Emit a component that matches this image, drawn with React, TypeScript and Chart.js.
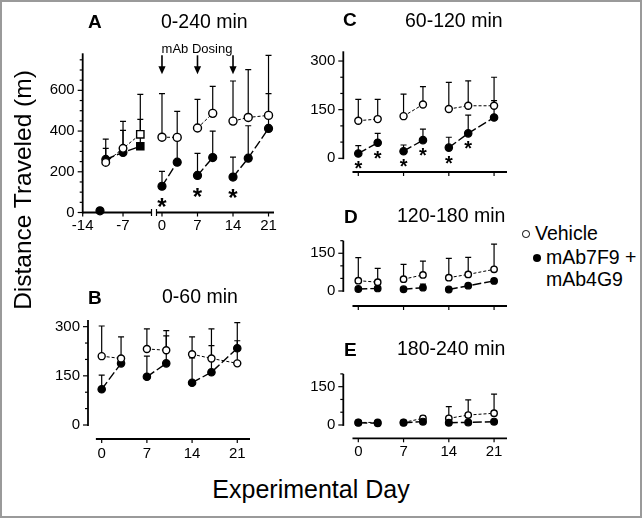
import React, { useEffect, useRef } from 'react';
import { Chart, registerables } from 'chart.js';

Chart.register(...registerables);

const FONT = "'Liberation Sans', Arial, Helvetica, sans-serif";

// ---------- DATA ----------
// Panel A, pre-dosing baseline period
const aPreDays = [-10, -7, -4];
const aPreVehicle = [246, 315, 384];
const aPreVehicleErr = [114, 133, 196];
const aPreMab = [261, 295, 325];
const aPreMabErr = [54, 108, 132];
const aHabDay = [-11];
const aHabMab = [8];

// dosing period days (shared by all panels)
const days = [0, 3, 7, 10, 14, 17, 21];
const weekGroup = [1, 1, 2, 2, 3, 3, 3];
const preGroup = [1, 1, 1];

// tick values / labels
const xTicks = [0, 7, 14, 21];
const xTickLabels = ['0', '7', '14', '21'];
const aPreTicks = [-14, -7];
const aPreTickLabels = ['-14', '-7'];
const aYTicks = [0, 50, 100, 150, 200, 250, 300, 350, 400, 450, 500, 550, 600, 650, 700, 750];
const aYLabels = [0, 200, 400, 600];
const bcYTicks = [0, 50, 100, 150, 200, 250, 300];
const bcYLabels = [0, 150, 300];
const deYTicks = [0, 50, 100, 150, 200];
const deYLabels = [0, 150];

// A: 0-240 min
const aVehicle = [370, 369, 415, 487, 449, 467, 477];
const aVehicleErr = [214, 128, 141, 133, 197, 235, 295];
const aMab = [129, 247, 182, 270, 174, 267, 413];
const aMabErr = [73, 125, 108, 130, 98, 159, 171];
const aStars = [0, 7, 14];
const doseDays = [0, 7, 14];

// B: 0-60 min
const bVehicle = [210, 203, 232, 228, 216, 203, 188];
const bVehicleErr = [92, 66, 61, 60, 53, 90, 69];
const bMab = [109, 188, 147, 188, 129, 161, 234];
const bMabErr = [43, 15, 63, 84, 76, 81, 78];

// C: 60-120 min
const cVehicle = [116, 121, 130, 166, 152, 162, 162];
const cVehicleErr = [66, 61, 68, 55, 82, 77, 88];
const cMab = [15, 48, 22, 56, 33, 77, 126];
const cMabErr = [24, 29, 19, 34, 32, 56, 52];
const cStars = [0, 3, 7, 10, 14, 17];

// D: 120-180 min
const dVehicle = [41, 35, 47, 64, 53, 66, 86];
const dVehicleErr = [92, 55, 59, 55, 77, 68, 100];
const dMab = [8, 10, 7, 13, 6, 21, 40];
const dMabErr = [5, 6, 5, 14, 4, 6, 8];

// E: 180-240 min
const eVehicle = [10, 10, 10, 26, 26, 39, 46];
const eVehicleErr = [3, 4, 4, 9, 46, 59, 75];
const eMab = [9, 7, 9, 13, 9, 10, 13];
const eMabErr = [3, 3, 3, 4, 3, 3, 4];

// ---------- helpers ----------
type Pt = { x: number; y: number | null; e?: number };

function buildSeries(ds: number[], vals: number[], errs: number[] | null, groups: number[]): Pt[] {
  const out: Pt[] = [];
  ds.forEach((d, i) => {
    if (i > 0 && groups[i] !== groups[i - 1]) out.push({ x: (ds[i - 1] + d) / 2, y: null });
    out.push({ x: d, y: vals[i], e: errs ? errs[i] : 0 });
  });
  return out;
}

function vehDs(pts: Pt[], r: any, order: number, style: any = 'circle') {
  return {
    data: pts,
    borderColor: '#000',
    borderWidth: 1,
    borderDash: [3, 2],
    pointStyle: style,
    pointRadius: r,
    pointBorderWidth: 1.4,
    pointBackgroundColor: '#fff',
    pointBorderColor: '#000',
    showLine: true,
    spanGaps: false,
    fill: false,
    tension: 0,
    order,
    clip: false,
  };
}

function mabDs(pts: Pt[], r: any, order: number, style: any = 'circle', showLine = true) {
  return {
    data: pts,
    borderColor: '#000',
    borderWidth: 1.4,
    borderDash: [9, 3],
    pointStyle: style,
    pointRadius: r,
    pointBorderWidth: 1.2,
    pointBackgroundColor: '#000',
    pointBorderColor: '#000',
    showLine,
    spanGaps: false,
    fill: false,
    tension: 0,
    order,
    clip: false,
  };
}

interface PanelCfg {
  area: { l: number; t: number; r: number; b: number };
  xRange: [number, number];
  yRange: [number, number];
  xTickVals: number[];
  xLabels: string[];
  yTickVals: number[];
  yLabelVals: number[];
  showY: boolean;
  xTickLen: number;
  xPad: number;
  xLineFrom: number | null;
  breakLeft?: boolean;
  breakRight?: boolean;
  datasets: any[];
  stars?: { days: number[]; vals: number[]; offset: number; size: number };
  arrows?: number[];
}

function Panel({ cfg }: { cfg: PanelCfg }) {
  const ref = useRef<HTMLCanvasElement>(null);
  const { l, t, r, b } = cfg.area;
  const left = Math.floor(l) - 50;
  const top = Math.floor(t) - 14;
  const w = Math.ceil(r) + 12 - left;
  const h = Math.ceil(b) + 30 - top;
  const yW = l - left;
  const padTop = t - top;
  const padRight = left + w - r;
  const xH = top + h - b;

  useEffect(() => {
    const drawPlugin = {
      id: 'panelDraw',
      beforeDatasetsDraw(chart: any) {
        const { ctx } = chart;
        const xs = chart.scales.x;
        const ys = chart.scales.y;
        ctx.save();
        ctx.strokeStyle = '#000';
        ctx.lineWidth = 1.2;
        chart.data.datasets.forEach((ds: any) => {
          (ds.data as Pt[]).forEach((p) => {
            if (p.y == null || !p.e) return;
            const x = xs.getPixelForValue(p.x);
            const y0 = ys.getPixelForValue(p.y);
            const y1 = ys.getPixelForValue(p.y + p.e);
            ctx.beginPath();
            ctx.moveTo(x, y0);
            ctx.lineTo(x, y1);
            ctx.moveTo(x - 3, y1);
            ctx.lineTo(x + 3, y1);
            ctx.stroke();
          });
        });
        ctx.restore();
      },
      afterDatasetsDraw(chart: any) {
        const { ctx, chartArea: ca } = chart;
        const xs = chart.scales.x;
        const ys = chart.scales.y;
        ctx.save();
        ctx.fillStyle = '#000';
        if (cfg.stars) {
          const st = cfg.stars;
          ctx.font = `bold ${st.size}px ${FONT}`;
          ctx.textAlign = 'center';
          ctx.textBaseline = 'alphabetic';
          st.days.forEach((d) => {
            const v = st.vals[days.indexOf(d)];
            const x = xs.getPixelForValue(d);
            const cy = ys.getPixelForValue(v) + st.offset;
            ctx.fillText('*', x, cy + 0.55 * st.size);
          });
        }
        if (cfg.arrows) {
          ctx.strokeStyle = '#000';
          ctx.lineWidth = 1.6;
          cfg.arrows.forEach((d) => {
            const x = xs.getPixelForValue(d);
            ctx.beginPath();
            ctx.moveTo(x, ca.top + 2);
            ctx.lineTo(x, ca.top + 14);
            ctx.stroke();
            ctx.beginPath();
            ctx.moveTo(x - 3.6, ca.top + 13);
            ctx.lineTo(x + 3.6, ca.top + 13);
            ctx.lineTo(x, ca.top + 21);
            ctx.closePath();
            ctx.fill();
          });
        }
        ctx.restore();
      },
      afterDraw(chart: any) {
        const { ctx, chartArea: ca } = chart;
        const xs = chart.scales.x;
        const ys = chart.scales.y;
        ctx.save();
        ctx.strokeStyle = '#000';
        if (cfg.showY) {
          const y0 = ys.getPixelForValue(Math.max(0, ys.min));
          ctx.lineWidth = 1.8;
          ctx.beginPath();
          ctx.moveTo(ca.left, y0 + 0.9);
          ctx.lineTo(ca.left, ca.top);
          ctx.stroke();
          ctx.lineWidth = 1.2;
          cfg.yTickVals.forEach((v) => {
            const y = ys.getPixelForValue(v);
            const len = cfg.yLabelVals.includes(v) ? 5 : 3;
            ctx.beginPath();
            ctx.moveTo(ca.left - len, y);
            ctx.lineTo(ca.left, y);
            ctx.stroke();
          });
        }
        const xa = cfg.xLineFrom == null ? ca.left : xs.getPixelForValue(cfg.xLineFrom);
        ctx.lineWidth = 1.8;
        ctx.beginPath();
        ctx.moveTo(xa, ca.bottom);
        ctx.lineTo(ca.right, ca.bottom);
        ctx.stroke();
        ctx.lineWidth = 1.2;
        cfg.xTickVals.forEach((v) => {
          const x = xs.getPixelForValue(v);
          ctx.beginPath();
          ctx.moveTo(x, ca.bottom);
          ctx.lineTo(x, ca.bottom + 4);
          ctx.stroke();
        });
        if (cfg.breakRight) {
          ctx.beginPath();
          ctx.moveTo(ca.right - 0.5, ca.bottom - 3.5);
          ctx.lineTo(ca.right - 0.5, ca.bottom + 3.5);
          ctx.stroke();
        }
        if (cfg.breakLeft) {
          ctx.beginPath();
          ctx.moveTo(ca.left + 0.5, ca.bottom - 3.5);
          ctx.lineTo(ca.left + 0.5, ca.bottom + 3.5);
          ctx.stroke();
        }
        ctx.restore();
      },
    };

    const tickFont = { family: FONT, size: 15 };
    const chart = new Chart(ref.current as HTMLCanvasElement, {
      type: 'line',
      data: { datasets: cfg.datasets },
      options: {
        responsive: false,
        animation: false,
        devicePixelRatio: 1,
        events: [],
        layout: { padding: { top: padTop, right: padRight, left: 0, bottom: 0 } },
        plugins: { legend: { display: false }, tooltip: { enabled: false } },
        scales: {
          x: {
            type: 'linear',
            min: cfg.xRange[0],
            max: cfg.xRange[1],
            afterBuildTicks: (s: any) => {
              s.ticks = cfg.xTickVals.map((v) => ({ value: v }));
            },
            afterFit: (s: any) => {
              s.height = xH;
            },
            border: { display: false },
            grid: {
              display: true,
              drawOnChartArea: false,
              drawTicks: true,
              tickLength: cfg.xTickLen,
              color: 'rgba(0,0,0,0)',
            },
            ticks: {
              autoSkip: false,
              maxRotation: 0,
              padding: cfg.xPad,
              color: '#000',
              font: tickFont,
              callback: (v: any) => {
                const i = cfg.xTickVals.indexOf(Number(v));
                return i >= 0 && cfg.xLabels[i] !== undefined ? cfg.xLabels[i] : '';
              },
            },
          },
          y: {
            type: 'linear',
            min: cfg.yRange[0],
            max: cfg.yRange[1],
            afterBuildTicks: (s: any) => {
              s.ticks = cfg.yTickVals.map((v) => ({ value: v }));
            },
            afterFit: (s: any) => {
              s.width = yW;
            },
            border: { display: false },
            grid: {
              display: true,
              drawOnChartArea: false,
              drawTicks: true,
              tickLength: 6,
              color: 'rgba(0,0,0,0)',
            },
            ticks: {
              display: cfg.showY,
              autoSkip: false,
              padding: 2,
              color: '#000',
              font: tickFont,
              callback: (v: any) => (cfg.yLabelVals.includes(Number(v)) ? String(v) : ''),
            },
          },
        },
      } as any,
      plugins: [drawPlugin],
    });
    return () => chart.destroy();
  }, []);

  return (
    <canvas
      ref={ref}
      width={w}
      height={h}
      style={{ position: 'absolute', left, top, width: w, height: h, display: 'block' }}
    />
  );
}

function Txt(p: { x: number; cy: number; size: number; bold?: boolean; center?: boolean; children: any }) {
  return (
    <div
      style={{
        position: 'absolute',
        left: p.x,
        top: p.cy - 0.49 * p.size,
        fontFamily: FONT,
        fontSize: p.size,
        lineHeight: `${p.size}px`,
        fontWeight: p.bold ? 'bold' : 'normal',
        whiteSpace: 'nowrap',
        color: '#000',
        transform: p.center ? 'translateX(-50%)' : undefined,
      }}
    >
      {p.children}
    </div>
  );
}

// ---------- panel configurations ----------
const aLeftCfg: PanelCfg = {
  area: { l: 82.7, t: 53.3, r: 152, b: 212.5 },
  xRange: [-14, -1.97],
  yRange: [0, 782],
  xTickVals: aPreTicks,
  xLabels: aPreTickLabels,
  yTickVals: aYTicks,
  yLabelVals: aYLabels,
  showY: true,
  xTickLen: 4,
  xPad: 0,
  xLineFrom: null,
  breakRight: true,
  datasets: [
    vehDs(buildSeries(aPreDays, aPreVehicle, aPreVehicleErr, preGroup), [3.8, 3.8, 5.2], 0, ['circle', 'circle', 'rect']),
    mabDs(buildSeries(aPreDays, aPreMab, aPreMabErr, preGroup), [3.9, 3.9, 5.2], 1, ['circle', 'circle', 'rect']),
    mabDs(buildSeries(aHabDay, aHabMab, null, [1]), 4, 1, 'circle', false),
  ],
};

const aRightCfg: PanelCfg = {
  area: { l: 156, t: 53.3, r: 274, b: 212.5 },
  xRange: [-1.18, 22.08],
  yRange: [0, 782],
  xTickVals: xTicks,
  xLabels: xTickLabels,
  yTickVals: aYTicks,
  yLabelVals: aYLabels,
  showY: false,
  xTickLen: 4,
  xPad: 0,
  xLineFrom: null,
  breakLeft: true,
  datasets: [
    vehDs(buildSeries(days, aVehicle, aVehicleErr, weekGroup), 4, 0),
    mabDs(buildSeries(days, aMab, aMabErr, weekGroup), 4, 1),
  ],
  stars: { days: aStars, vals: aMab, offset: 16, size: 24 },
  arrows: doseDays,
};

const bCfg: PanelCfg = {
  area: { l: 88, t: 320.1, r: 250, b: 439 },
  xRange: [-2.12, 22.97],
  yRange: [-42.7, 320],
  xTickVals: xTicks,
  xLabels: xTickLabels,
  yTickVals: bcYTicks,
  yLabelVals: bcYLabels,
  showY: true,
  xTickLen: 4,
  xPad: 2,
  xLineFrom: -0.9,
  datasets: [
    vehDs(buildSeries(days, bVehicle, bVehicleErr, weekGroup), 3.5, 0),
    mabDs(buildSeries(days, bMab, bMabErr, weekGroup), 3.7, 1),
  ],
};

const cCfg: PanelCfg = {
  area: { l: 343.3, t: 51.3, r: 507, b: 172 },
  xRange: [-2.32, 23.0],
  yRange: [-42.2, 330],
  xTickVals: xTicks,
  xLabels: [],
  yTickVals: bcYTicks,
  yLabelVals: bcYLabels,
  showY: true,
  xTickLen: 4,
  xPad: 2,
  xLineFrom: -0.9,
  datasets: [
    vehDs(buildSeries(days, cVehicle, cVehicleErr, weekGroup), 3.5, 0),
    mabDs(buildSeries(days, cMab, cMabErr, weekGroup), 3.7, 1),
  ],
  stars: { days: cStars, vals: cMab, offset: 11, size: 20 },
};

const dCfg: PanelCfg = {
  area: { l: 343.3, t: 240.7, r: 507, b: 306 },
  xRange: [-2.32, 23.0],
  yRange: [-59.7, 200],
  xTickVals: xTicks,
  xLabels: [],
  yTickVals: deYTicks,
  yLabelVals: deYLabels,
  showY: true,
  xTickLen: 4,
  xPad: 2,
  xLineFrom: -0.9,
  datasets: [
    vehDs(buildSeries(days, dVehicle, dVehicleErr, weekGroup), 3.2, 0),
    mabDs(buildSeries(days, dMab, dMabErr, weekGroup), 3.3, 1),
  ],
};

const eCfg: PanelCfg = {
  area: { l: 343.3, t: 373.9, r: 507, b: 438.3 },
  xRange: [-2.32, 23.0],
  yRange: [-52.1, 200],
  xTickVals: xTicks,
  xLabels: xTickLabels,
  yTickVals: deYTicks,
  yLabelVals: deYLabels,
  showY: true,
  xTickLen: 4,
  xPad: 1,
  xLineFrom: -0.9,
  datasets: [
    vehDs(buildSeries(days, eVehicle, eVehicleErr, weekGroup), 3.2, 1),
    mabDs(buildSeries(days, eMab, eMabErr, weekGroup), 3.4, 0),
  ],
};

export default function App() {
  return (
    <div
      style={{
        position: 'absolute',
        left: 0,
        top: 0,
        width: 642,
        height: 518,
        background: '#fff',
        overflow: 'hidden',
      }}
    >
      <Panel cfg={aLeftCfg} />
      <Panel cfg={aRightCfg} />
      <Panel cfg={bCfg} />
      <Panel cfg={cCfg} />
      <Panel cfg={dCfg} />
      <Panel cfg={eCfg} />

      {/* panel titles */}
      <Txt x={88} cy={21} size={19} bold>A</Txt>
      <Txt x={161} cy={22} size={19.5}>0-240 min</Txt>
      <Txt x={197} cy={48} size={13} center>mAb Dosing</Txt>
      <Txt x={88} cy={297} size={19} bold>B</Txt>
      <Txt x={162} cy={297} size={19.5}>0-60 min</Txt>
      <Txt x={343} cy={19} size={19} bold>C</Txt>
      <Txt x={405} cy={21} size={19.5}>60-120 min</Txt>
      <Txt x={344} cy={216} size={19} bold>D</Txt>
      <Txt x={397} cy={216} size={19.5}>120-180 min</Txt>
      <Txt x={344} cy={349} size={19} bold>E</Txt>
      <Txt x={397} cy={349} size={19.5}>180-240 min</Txt>

      {/* legend */}
      <div
        style={{
          position: 'absolute',
          left: 526 - 3.8,
          top: 234 - 3.8,
          width: 7.6,
          height: 7.6,
          boxSizing: 'border-box',
          border: '1.3px solid #000',
          borderRadius: '50%',
          background: '#fff',
        }}
      />
      <Txt x={535} cy={234} size={19.5}>Vehicle</Txt>
      <div
        style={{
          position: 'absolute',
          left: 537 - 4,
          top: 258 - 4,
          width: 8,
          height: 8,
          borderRadius: '50%',
          background: '#000',
        }}
      />
      <Txt x={546} cy={258} size={19.5}>mAb7F9 +</Txt>
      <Txt x={546} cy={280} size={19.5}>mAb4G9</Txt>

      {/* axis titles */}
      <div
        style={{
          position: 'absolute',
          left: 22.5,
          top: 190,
          fontFamily: FONT,
          fontSize: 24.5,
          lineHeight: '24.5px',
          whiteSpace: 'nowrap',
          color: '#000',
          transform: 'translate(-50%, -50%) rotate(-90deg)',
        }}
      >
        Distance Traveled (m)
      </div>
      <Txt x={311} cy={489} size={25} center>Experimental Day</Txt>

      {/* frame */}
      <div
        style={{
          position: 'absolute',
          inset: 0,
          boxSizing: 'border-box',
          border: '2px solid #9a9a9a',
          pointerEvents: 'none',
        }}
      />
    </div>
  );
}
